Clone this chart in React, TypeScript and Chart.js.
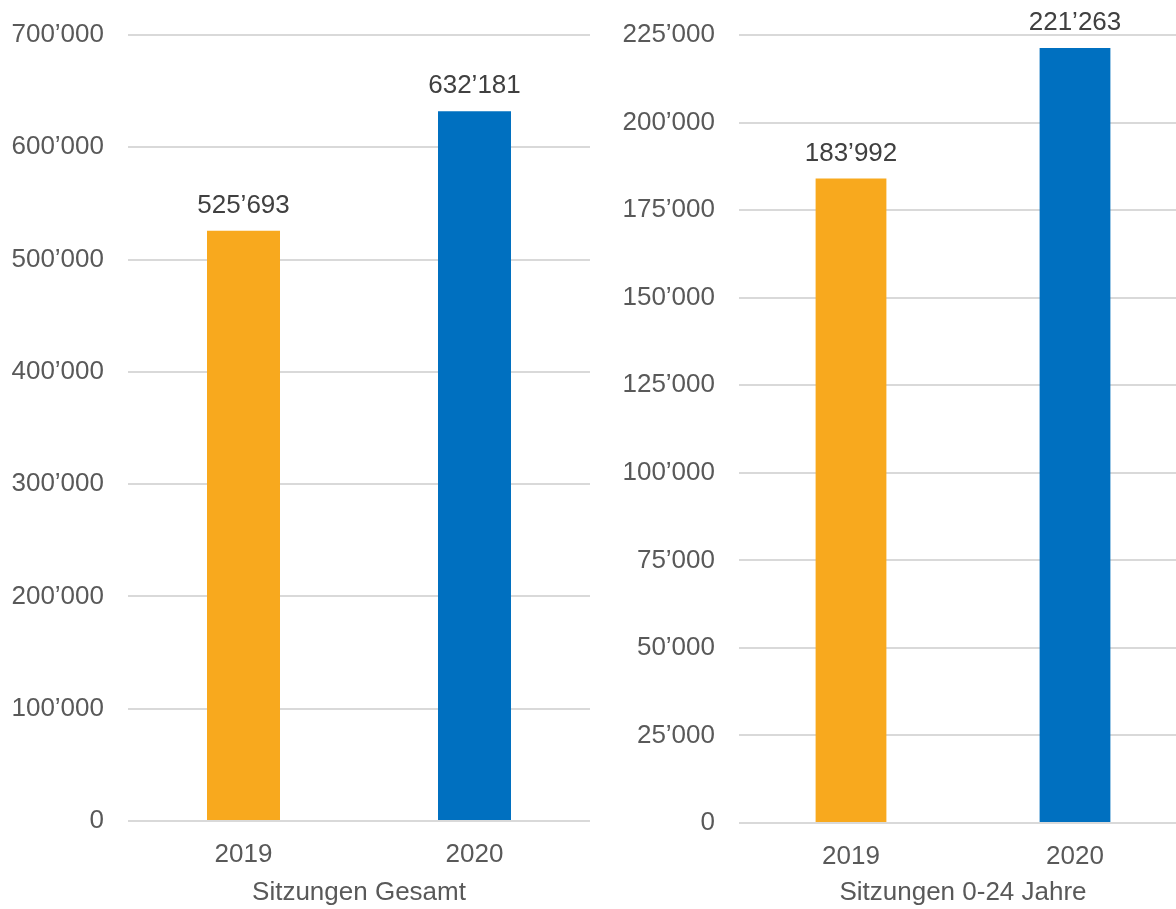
import React, { useEffect, useRef } from "react";
import { Chart, registerables } from "chart.js";

Chart.register(...registerables);

const categories = ["2019", "2020"];
const totalSessions = [525693, 632181];
const youthSessions = [183992, 221263];
const barColors = ["#F8A91E", "#0070C0"];
const titleTotal = "Sitzungen Gesamt";
const titleYouth = "Sitzungen 0-24 Jahre";
const totalMax = 700000;
const totalStep = 100000;
const youthMax = 225000;
const youthStep = 25000;

const FONT = "'Liberation Sans', Arial, sans-serif";
const TEXT = "#595959";

function fmt(v: number): string {
  return String(Math.round(v)).replace(/\B(?=(\d{3})+(?!\d))/g, "\u2019");
}

const valueLabels = {
  id: "valueLabels",
  afterDatasetsDraw(chart: any) {
    const ctx = chart.ctx;
    const meta = chart.getDatasetMeta(0);
    const data = chart.data.datasets[0].data as number[];
    ctx.save();
    ctx.font = `26px ${FONT}`;
    ctx.fillStyle = "#404040";
    ctx.textAlign = "center";
    ctx.textBaseline = "middle";
    meta.data.forEach((bar: any, i: number) => {
      ctx.fillText(fmt(data[i]), bar.x, bar.y - 25);
    });
    ctx.restore();
  },
};

interface Props {
  values: number[];
  title: string;
  max: number;
  step: number;
  left: number;
  width: number;
  axisWidth: number;
  padRight: number;
  padTop: number;
  xHeight: number;
}

function BarChart(p: Props) {
  const ref = useRef<HTMLCanvasElement>(null);
  useEffect(() => {
    if (!ref.current) return;
    const chart = new Chart(ref.current, {
      type: "bar",
      data: {
        labels: categories,
        datasets: [
          {
            data: p.values,
            backgroundColor: barColors,
            barPercentage: 0.316,
            categoryPercentage: 1,
          },
        ],
      },
      options: {
        animation: false,
        responsive: false,
        maintainAspectRatio: false,
        layout: {
          padding: { left: 0, top: p.padTop, right: p.padRight, bottom: 0 },
        },
        plugins: { legend: { display: false }, tooltip: { enabled: false } },
        scales: {
          x: {
            grid: { display: false, drawTicks: false },
            border: { display: false },
            ticks: { color: TEXT, font: { size: 26, family: FONT }, padding: 18 },
            title: {
              display: true,
              text: p.title,
              color: TEXT,
              font: { size: 26, family: FONT },
              padding: { top: 0, bottom: 1 },
            },
            afterFit: (scale: any) => {
              scale.height = p.xHeight;
              scale.paddingLeft = 0;
              scale.paddingRight = 0;
            },
          },
          y: {
            min: 0,
            max: p.max,
            grid: { color: "#D9D9D9", lineWidth: 2, drawTicks: false },
            border: { display: false },
            ticks: {
              stepSize: p.step,
              color: TEXT,
              font: { size: 26, family: FONT },
              padding: 24,
              callback: (v: any) => fmt(Number(v)),
            },
            afterFit: (scale: any) => {
              scale.width = p.axisWidth;
              scale.paddingTop = 0;
              scale.paddingBottom = 0;
            },
          },
        },
      },
      plugins: [valueLabels],
    });
    return () => chart.destroy();
  }, []);
  return (
    <canvas
      ref={ref}
      width={p.width}
      height={909}
      style={{ position: "absolute", left: p.left, top: 0, width: p.width, height: 909 }}
    />
  );
}

export default function App() {
  useEffect(() => {
    document.body.style.margin = "0";
    document.body.style.overflow = "hidden";
  }, []);
  return (
    <div style={{ position: "relative", width: 1176, height: 909, overflow: "hidden", background: "#fff" }}>
      <BarChart
        values={totalSessions}
        title={titleTotal}
        max={totalMax}
        step={totalStep}
        left={0}
        width={600}
        axisWidth={128}
        padRight={10}
        padTop={35}
        xHeight={88}
      />
      <BarChart
        values={youthSessions}
        title={titleYouth}
        max={youthMax}
        step={youthStep}
        left={600}
        width={600}
        axisWidth={139}
        padRight={13}
        padTop={35}
        xHeight={86}
      />
    </div>
  );
}
